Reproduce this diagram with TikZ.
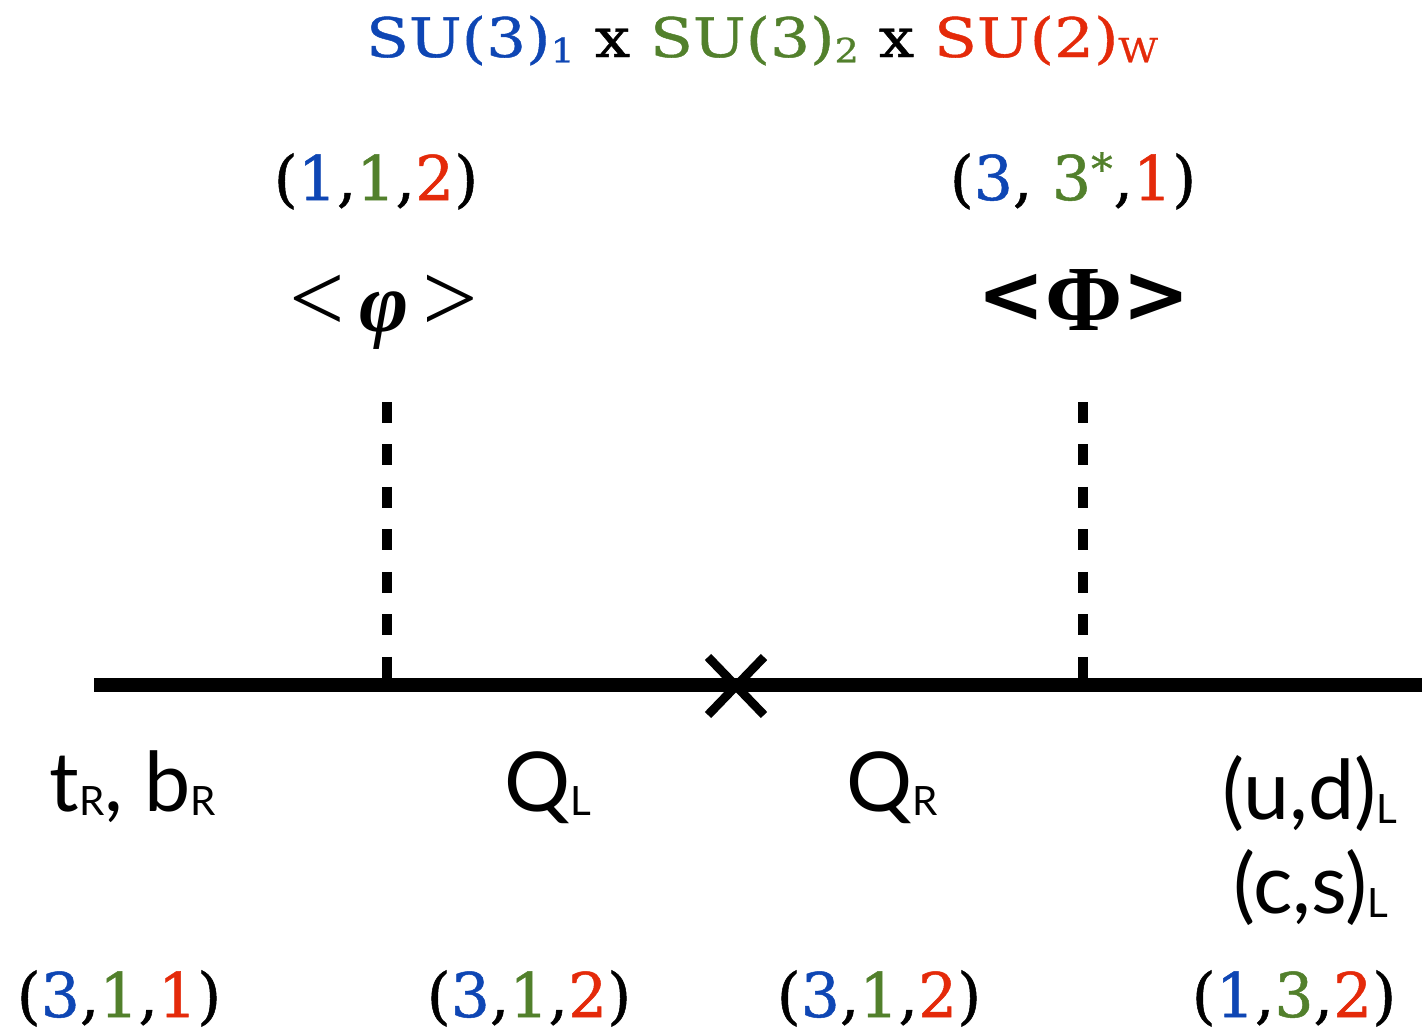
\documentclass[tikz,border=0pt]{standalone}
\usepackage{amsmath}
\usepackage{fontspec}
\usepackage{tikz}
\usetikzlibrary{positioning}
\setmainfont{Lato}
\newfontfamily\repfont{DejaVu Serif}[FakeBold=0.8]
\newfontfamily\titlefont{DejaVu Serif}[FakeStretch=1.15, FakeBold=0.8]
\newfontfamily\greekfont{Liberation Serif}
\newfontfamily\symfont{DejaVu Sans}
\definecolor{GroupOne}{RGB}{14, 70, 180}
\definecolor{GroupTwo}{RGB}{82, 128, 44}
\definecolor{GroupW}{RGB}{228, 42, 10}
\newcommand{\grpA}[1]{\textcolor{GroupOne}{#1}}
\newcommand{\grpB}[1]{\textcolor{GroupTwo}{#1}}
\newcommand{\grpW}[1]{\textcolor{GroupW}{#1}}
\newcommand{\fieldsub}[1]{\raisebox{-2.3pt}{\fontsize{23}{23}\selectfont #1}}
\newcommand{\groupsub}[1]{\raisebox{-3pt}{\fontsize{19}{19}\selectfont #1}}
\tikzset{
    rep/.style={font=\repfont\fontsize{35}{40}\selectfont, inner sep=0pt, anchor=base},
    field/.style={font=\fontsize{47}{52}\selectfont, inner sep=0pt, anchor=base},
    vev/.style={inner sep=0pt, anchor=base},
    wire/.style={line width=8.5pt},
    scalar/.style={line width=6pt, dash pattern=on 0.42cm off 0.43cm},
    mixing/.style={line width=5pt}
}

\begin{document}
\begin{tikzpicture}[x=0.02cm, y=-0.02cm]
    \useasboundingbox (0,0) rectangle (1422,1031);

    \node[font=\titlefont\fontsize{31}{36}\selectfont, inner sep=0pt, anchor=base] (group) at (762,57)
        {\grpA{SU(3)\groupsub{1}} x \grpB{SU(3)\groupsub{2}} x \grpW{SU(2)\groupsub{W}}};

    \node[rep] (phirep) at (376,200) {(\grpA{1},\grpB{1},\grpW{2})};
    \node[rep] (Phirep) at (1073,200) {(\grpA{3}, \grpB{3\textsuperscript{*}},\grpW{1})};

    \node[vev, font=\greekfont\fontsize{48}{50}\selectfont] (phi) at (384,331)
        {{\fontsize{56}{56}\selectfont<}\,{\bfseries\itshape φ}\,{\fontsize{56}{56}\selectfont>}};
    \node[vev, font=\fontsize{53}{55}\selectfont] (Phi) at (1084,330)
        {\raisebox{4pt}{\symfont\bfseries\fontsize{46}{46}\selectfont<}{\greekfont\bfseries Φ}\raisebox{4pt}{\symfont\bfseries\fontsize{46}{46}\selectfont>}};

    % fermion line and insertions
    \coordinate (lineL) at (94,685);
    \coordinate (lineR) at (1422,685);
    \coordinate (phitop) at (387,402);
    \coordinate (phifoot) at (387,685);
    \coordinate (Phitop) at (1083,402);
    \coordinate (Phifoot) at (1083,685);
    \coordinate (mix) at (736,686);

    \draw[wire] (lineL) -- (lineR);
    \draw[scalar] (phitop) -- (phifoot);
    \draw[scalar] (Phitop) -- (Phifoot);
    \draw[mixing] ([shift={(-28,-29)}]mix) -- ([shift={(28,29)}]mix);
    \draw[mixing] ([shift={(-28,29)}]mix) -- ([shift={(28,-29)}]mix);

    \node[field] (tb) at (133,811) {t\fieldsub{R}, b\fieldsub{R}};
    \node[field] (QL) at (548,811) {Q\fieldsub{L}};
    \node[field] (QR) at (892,811) {Q\fieldsub{R}};
    \node[field] (ud) at (1310,819) {(u,d)\fieldsub{L}};
    \node[field] (cs) at (1311,913) {(c,s)\fieldsub{L}};

    \node[rep] (tbrep) at (119,1017) {(\grpA{3},\grpB{1},\grpW{1})};
    \node[rep] (QLrep) at (529,1017) {(\grpA{3},\grpB{1},\grpW{2})};
    \node[rep] (QRrep) at (879,1017) {(\grpA{3},\grpB{1},\grpW{2})};
    \node[rep] (udrep) at (1294,1017) {(\grpA{1},\grpB{3},\grpW{2})};
\end{tikzpicture}
\end{document}
